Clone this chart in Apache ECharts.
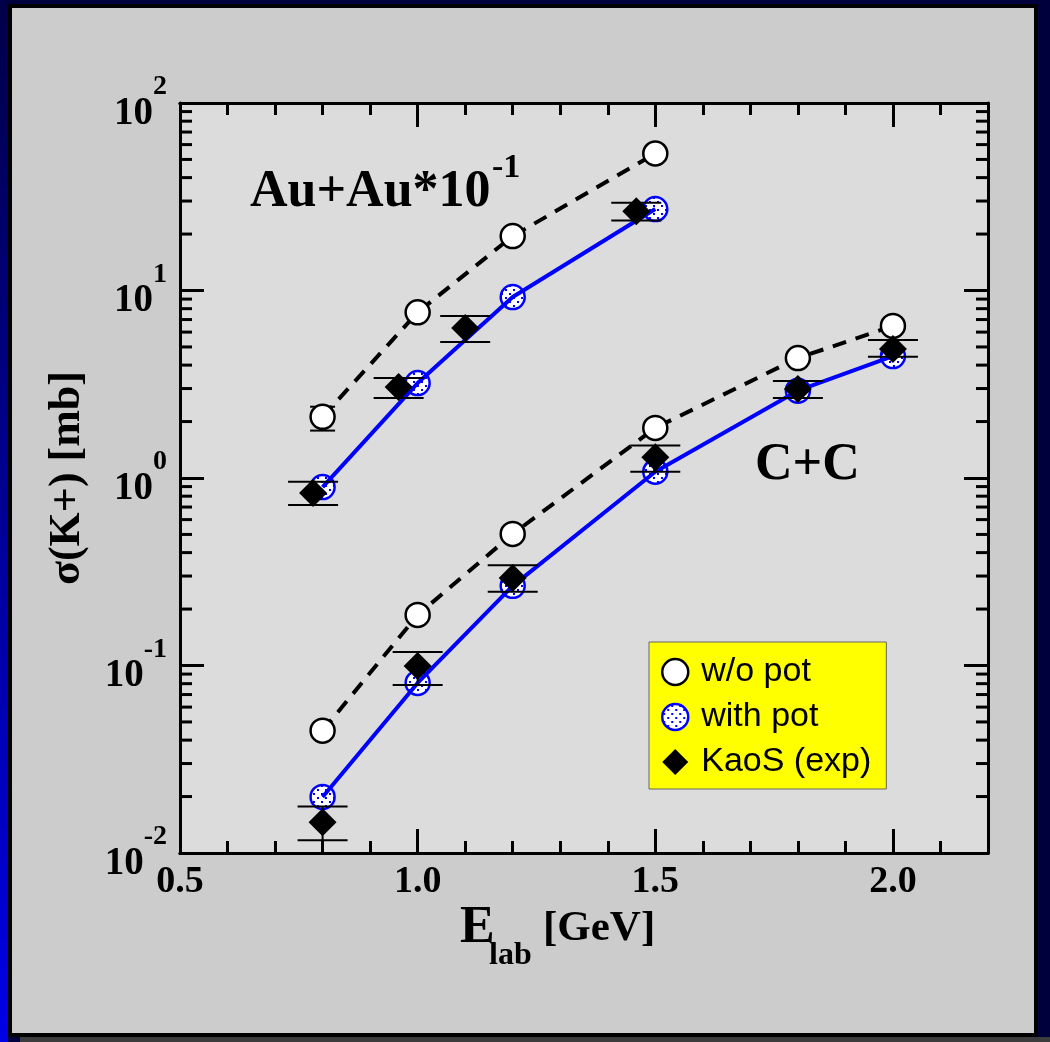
<!DOCTYPE html>
<html>
<head>
<meta charset="utf-8">
<script src="https://cdn.jsdelivr.net/npm/echarts@6/dist/echarts.min.js"></script>
<style>
  html, body { margin: 0; padding: 0; }
  .frame { position: relative; width: 1050px; height: 1042px; background: #00003c; overflow: hidden; }
  .leftbar { position: absolute; left: 0; top: 0; width: 8px; height: 1042px; background: linear-gradient(to bottom, #000048, #0000e6); }
  .shadow { position: absolute; left: 20px; top: 1037px; width: 1030px; height: 5px; background: #3c3c3c; }
  .panel { position: absolute; left: 8px; top: 4px; width: 1022px; height: 1025px; border: 4px solid #000; background: #cccccc; }
  #chart { position: absolute; left: 0; top: 0; width: 1050px; height: 1042px; }
</style>
</head>
<body>
<div class="frame">
  <div class="leftbar"></div>
  <div class="shadow"></div>
  <div class="panel"></div>
  <div id="chart"></div>
</div>
<script>
// Au+Au (scaled by 10^-1)
var auE = [0.8, 1.0, 1.2, 1.5];
var auNoPot = [2.12, 7.65, 19.5, 53.8];
var auWithPot = [0.895, 3.21, 9.23, 27.2];
var auNoPotErr = [[0.8, 1.79, 2.4]];
var auExpE = [0.78, 0.96, 1.1, 1.46];
var auExp = [0.832, 3.06, 6.31, 26.5];
var auExpLo = [0.718, 2.67, 5.31, 23.6];
var auExpHi = [0.956, 3.41, 7.31, 29.4];

// C+C
var ccE = [0.8, 1.0, 1.2, 1.5, 1.8, 2.0];
var ccNoPot = [0.0449, 0.186, 0.503, 1.85, 4.36, 6.47];
var ccWithPot = [0.0199, 0.0807, 0.266, 1.08, 2.92, 4.47];
var ccExp = [0.0146, 0.0994, 0.293, 1.29, 2.98, 4.88];
var ccExpLo = [0.0117, 0.0786, 0.247, 1.08, 2.67, 4.43];
var ccExpHi = [0.0177, 0.118, 0.343, 1.49, 3.29, 5.44];

// y minor ticks: 2..9 times each decade
var decades = [-2, -1, 0, 1];
var mantissas = [2, 3, 4, 5, 6, 7, 8, 9];

var serif = "'Liberation Serif', 'Times New Roman', serif";

function pairs(xs, ys) {
  return xs.map(function (x, i) { return [x, ys[i]]; });
}
function errRows(xs, lo, hi) {
  return xs.map(function (x, i) { return [x, lo[i], hi[i]]; });
}

// dotted blue fill for "with pot" circles
var pc = document.createElement('canvas');
pc.width = 8; pc.height = 8;
var pctx = pc.getContext('2d');
pctx.fillStyle = '#ffffff';
pctx.fillRect(0, 0, 8, 8);
pctx.fillStyle = '#0000ff';
pctx.fillRect(1, 1, 2, 2);
pctx.fillRect(5, 5, 2, 2);
var dots = { image: pc, repeat: 'repeat' };

var minorY = [];
decades.forEach(function (d) {
  mantissas.forEach(function (m) { minorY.push([0.5, m * Math.pow(10, d)]); });
});

function errRender(halfW) {
  return function (params, api) {
    var x = api.value(0);
    var top = api.coord([x, api.value(2)]);
    var bot = api.coord([x, api.value(1)]);
    var st = { stroke: '#000', lineWidth: 2 };
    return {
      type: 'group',
      children: [
        { type: 'line', shape: { x1: top[0], y1: top[1], x2: bot[0], y2: bot[1] }, style: st },
        { type: 'line', shape: { x1: top[0] - halfW, y1: top[1], x2: top[0] + halfW, y2: top[1] }, style: st },
        { type: 'line', shape: { x1: bot[0] - halfW, y1: bot[1], x2: bot[0] + halfW, y2: bot[1] }, style: st }
      ]
    };
  };
}

function dottedCircle(params, api) {
  var p = api.coord([api.value(0), api.value(1)]);
  return {
    type: 'circle',
    shape: { cx: p[0], cy: p[1], r: 12 },
    style: { fill: dots, stroke: '#0000ff', lineWidth: 2.5 }
  };
}

function minorTickRender(params, api) {
  var cs = params.coordSys;
  var p = api.coord([api.value(0), api.value(1)]);
  var st = { stroke: '#000', lineWidth: 3 };
  return {
    type: 'group',
    children: [
      { type: 'line', shape: { x1: cs.x, y1: p[1], x2: cs.x + 12, y2: p[1] }, style: st },
      { type: 'line', shape: { x1: cs.x + cs.width - 12, y1: p[1], x2: cs.x + cs.width, y2: p[1] }, style: st }
    ]
  };
}

function xAxisDef(pos, interval, len, labels) {
  return {
    type: 'value', position: pos, min: 0.5, max: 2.2, interval: interval,
    axisLine: { show: true, onZero: false, lineStyle: { color: '#000', width: 3 } },
    axisTick: { show: true, inside: true, length: len, lineStyle: { color: '#000', width: 3 } },
    splitLine: { show: false },
    axisLabel: {
      show: labels, margin: 10, color: '#000',
      fontFamily: serif, fontWeight: 'bold', fontSize: 38,
      formatter: function (v) {
        return Math.abs(v * 2 - Math.round(v * 2)) < 1e-6 ? v.toFixed(1) : '';
      }
    }
  };
}

function yAxisDef(pos, labels) {
  return {
    type: 'log', logBase: 10, position: pos, min: 0.01, max: 100,
    axisLine: { show: true, onZero: false, lineStyle: { color: '#000', width: 3 } },
    axisTick: { show: true, inside: true, length: 24, lineStyle: { color: '#000', width: 3 } },
    splitLine: { show: false },
    minorTick: { show: false },
    axisLabel: {
      show: labels, margin: 13, color: '#000',
      formatter: function (v) {
        return '{g|\u200b}{b|10}{s|' + Math.round(Math.log10(v)) + '}';
      },
      rich: {
        g: { fontSize: 1, lineHeight: 60 },
        b: { fontFamily: serif, fontWeight: 'bold', fontSize: 39, lineHeight: 40, verticalAlign: 'bottom', color: '#000' },
        s: { fontFamily: serif, fontWeight: 'bold', fontSize: 28, lineHeight: 38, verticalAlign: 'top', color: '#000' }
      }
    }
  };
}

var chart = echarts.init(document.getElementById('chart'), null, { renderer: 'canvas' });

var noPotStyle = { color: '#ffffff', borderColor: '#000', borderWidth: 2.5, opacity: 1 };
var withPotStyle = { color: dots, borderColor: '#0000ff', borderWidth: 2.5, opacity: 1 };

chart.setOption({
  animation: false,
  backgroundColor: 'transparent',
  grid: { left: 180, top: 103, right: 62, bottom: 189, show: true, backgroundColor: '#dcdcdc', borderWidth: 0 },
  xAxis: [
    xAxisDef('bottom', 0.5, 24, true),
    xAxisDef('bottom', 0.1, 12, false),
    xAxisDef('top', 0.5, 24, false),
    xAxisDef('top', 0.1, 12, false)
  ],
  yAxis: [yAxisDef('left', true), yAxisDef('right', false)],
  legend: {
    orient: 'vertical', left: 649, top: 642,
    backgroundColor: '#ffff00', borderColor: '#666', borderWidth: 1,
    padding: [13, 15, 10, 12],
    itemWidth: 26, itemHeight: 26, itemGap: 11,
    selectedMode: false,
    textStyle: { fontFamily: "'Liberation Sans', Arial, sans-serif", fontSize: 34, color: '#000', padding: [0, 0, 0, 8] },
    data: [
      { name: 'w/o pot', icon: 'circle', itemStyle: noPotStyle },
      { name: 'with pot', icon: 'circle', itemStyle: withPotStyle },
      { name: 'KaoS (exp)', icon: 'diamond', itemStyle: { color: '#000', borderWidth: 0, opacity: 1 } }
    ]
  },
  graphic: [
    { type: 'text', x: 250, y: 193, style: { text: 'Au+Au*10', fontFamily: serif, fontWeight: 'bold', fontSize: 52, fill: '#000', align: 'left', verticalAlign: 'middle' } },
    { type: 'text', x: 492, y: 168, style: { text: '-1', fontFamily: serif, fontWeight: 'bold', fontSize: 34, fill: '#000', align: 'left', verticalAlign: 'middle' } },
    { type: 'text', x: 755, y: 466, style: { text: 'C+C', fontFamily: serif, fontWeight: 'bold', fontSize: 52, fill: '#000', align: 'left', verticalAlign: 'middle' } },
    { type: 'text', x: 460, y: 929, style: { text: 'E', fontFamily: serif, fontWeight: 'bold', fontSize: 52, fill: '#000', align: 'left', verticalAlign: 'middle' } },
    { type: 'text', x: 489, y: 956, style: { text: 'lab', fontFamily: serif, fontWeight: 'bold', fontSize: 32, fill: '#000', align: 'left', verticalAlign: 'middle' } },
    { type: 'text', x: 543, y: 929, style: { text: '[GeV]', fontFamily: serif, fontWeight: 'bold', fontSize: 43, fill: '#000', align: 'left', verticalAlign: 'middle' } },
    { type: 'text', x: 68, y: 478, rotation: Math.PI / 2, style: { text: 'σ(K+) [mb]', fontFamily: serif, fontWeight: 'bold', fontSize: 44, fill: '#000', align: 'center', verticalAlign: 'middle' } }
  ],
  series: [
    {
      name: 'minor', type: 'custom', renderItem: minorTickRender, data: minorY,
      encode: { x: 0, y: 1 }, silent: true, z: 1, clip: false
    },
    {
      name: 'err-nopot', type: 'custom', renderItem: errRender(12.5), data: auNoPotErr,
      encode: { x: 0, y: [1, 2] }, silent: true, z: 1
    },
    {
      name: 'w/o pot', type: 'line', data: pairs(auE, auNoPot), z: 2,
      symbol: 'circle', symbolSize: 24, showAllSymbol: true,
      lineStyle: { color: '#000', width: 4, type: [14, 10] },
      itemStyle: noPotStyle
    },
    {
      name: 'w/o pot', type: 'line', data: pairs(ccE, ccNoPot), z: 2,
      symbol: 'circle', symbolSize: 24, showAllSymbol: true,
      lineStyle: { color: '#000', width: 4, type: [14, 10] },
      itemStyle: noPotStyle
    },
    {
      name: 'with pot', type: 'line', data: pairs(auE, auWithPot), z: 2,
      symbol: 'none',
      lineStyle: { color: '#0000ff', width: 4 },
      itemStyle: { color: '#0000ff' }
    },
    {
      name: 'with pot', type: 'line', data: pairs(ccE, ccWithPot), z: 2,
      symbol: 'none',
      lineStyle: { color: '#0000ff', width: 4 },
      itemStyle: { color: '#0000ff' }
    },
    {
      name: 'with pot', type: 'custom', renderItem: dottedCircle,
      data: pairs(auE, auWithPot).concat(pairs(ccE, ccWithPot)),
      encode: { x: 0, y: 1 }, silent: true, z: 2
    },
    {
      name: 'err-exp', type: 'custom', renderItem: errRender(25),
      data: errRows(auExpE, auExpLo, auExpHi).concat(errRows(ccE, ccExpLo, ccExpHi)),
      encode: { x: 0, y: [1, 2] }, silent: true, z: 3
    },
    {
      name: 'KaoS (exp)', type: 'scatter', data: pairs(auExpE, auExp).concat(pairs(ccE, ccExp)), z: 4,
      symbol: 'diamond', symbolSize: 28,
      itemStyle: { color: '#000', opacity: 1 }
    }
  ]
});
</script>
</body>
</html>
